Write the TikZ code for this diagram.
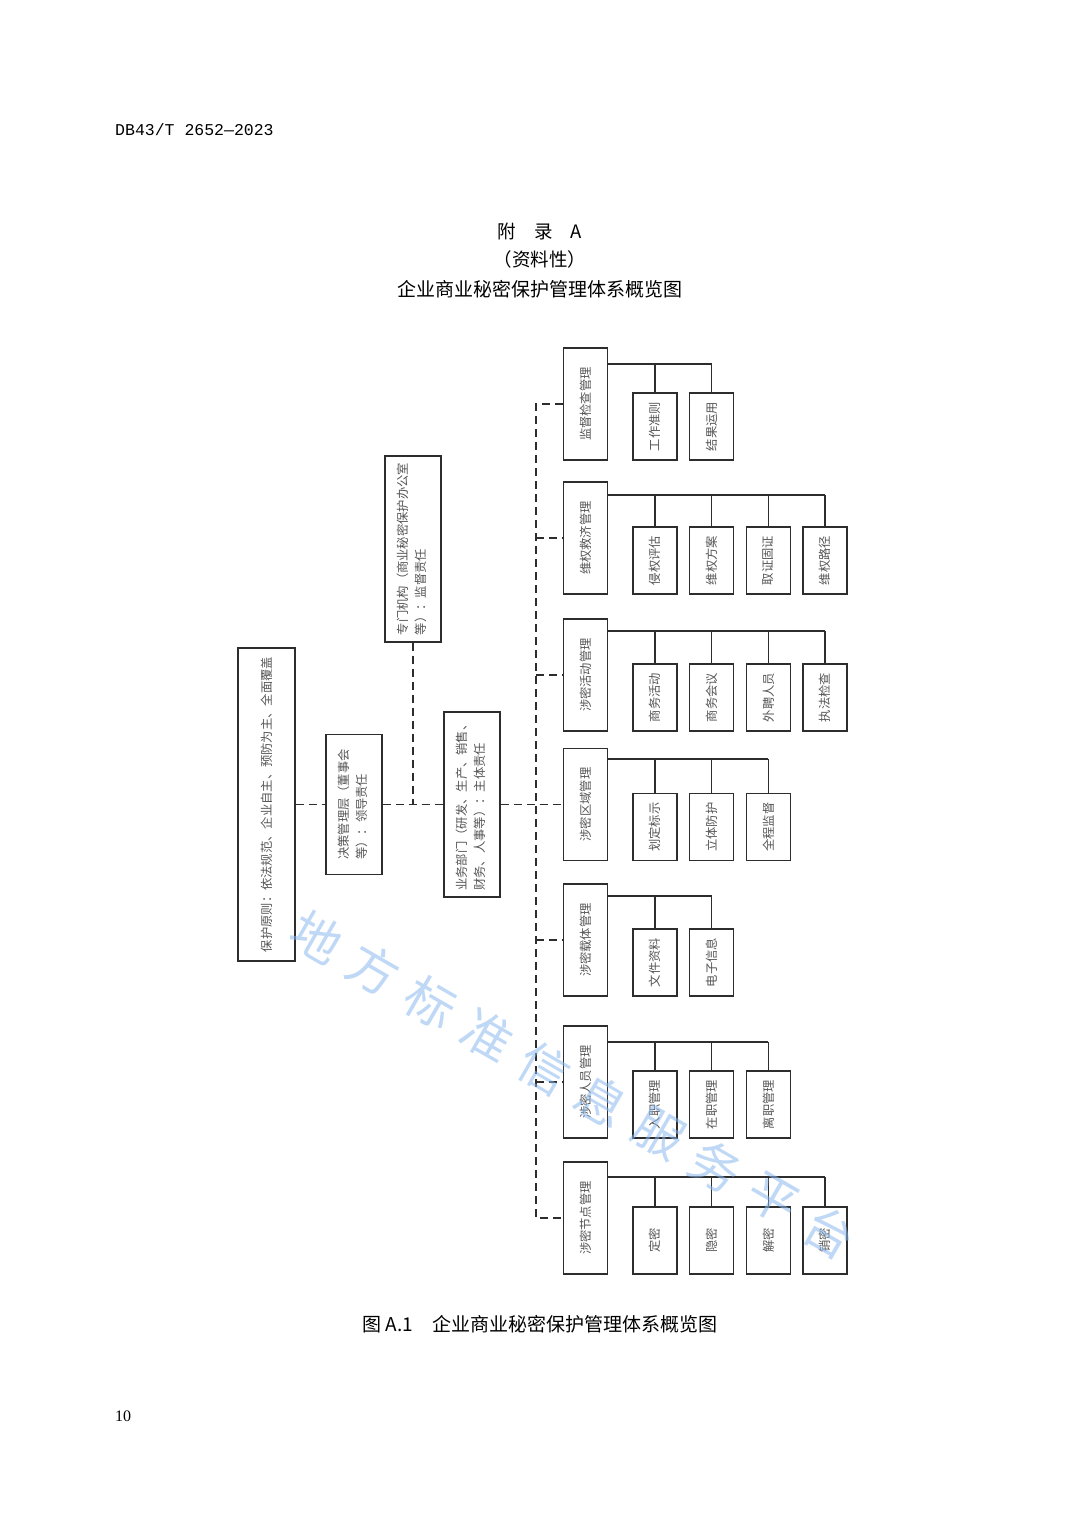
\documentclass[tikz,border=0pt]{standalone}
\usepackage{fontspec}
\usepackage{graphicx}
\newfontfamily\cjk{Noto Sans CJK SC}
\newfontfamily\monof{Liberation Mono}
\newfontfamily\serf{Liberation Serif}
\definecolor{linec}{RGB}{45,45,45}
\definecolor{textc}{RGB}{85,85,85}
\definecolor{wmark}{RGB}{140,185,240}
\newcommand{\vt}[1]{\rotatebox{90}{#1}}
\newcommand{\vtt}[2]{\rotatebox{90}{\begin{tabular}{@{}l@{}}#1\\#2\end{tabular}}}
\tikzset{
  boxbase/.style={draw=linec, line width=1.4pt, inner sep=0pt, text=textc,
    font=\cjk\fontsize{12.3}{18}\selectfont},
  catbox/.style={boxbase, minimum width=44pt, minimum height=112pt},
  kidbox/.style={boxbase, minimum width=44pt, minimum height=67pt},
  solidln/.style={draw=linec, line width=1.4pt},
  dashln/.style={draw=linec, line width=1.4pt, dash pattern=on 8pt off 5pt},
  titletext/.style={inner sep=0pt, text=black, font=\cjk\fontsize{18.5}{18.5}\selectfont}
}
\begin{document}
\begin{tikzpicture}[x=1pt, y=-1pt]
\fill[white] (0,0) rectangle (1080,1527);
\useasboundingbox (0,0) rectangle (1080,1527);

% header, titles, caption, page number
\node[anchor=west, inner sep=0pt, font=\monof\fontsize{16.5}{16.5}\selectfont] (hdr) at (115,130) {DB43/T 2652—2023};
\node[titletext] (t1) at (540,231) {附\hspace{18pt}录\hspace{18pt}A};
\node[titletext] (t2) at (540,259) {（资料性）};
\node[titletext, font=\cjk\fontsize{19}{19}\selectfont] (t3) at (540,289) {企业商业秘密保护管理体系概览图};
\node[titletext, font=\cjk\fontsize{19}{19}\selectfont] (cap) at (540,1324) {图 A.1\hspace{19pt}企业商业秘密保护管理体系概览图};
\node[anchor=west, inner sep=0pt, font=\serf\fontsize{16}{16}\selectfont] (pg) at (115,1416) {10};

% left part
\node[boxbase, minimum width=57pt, minimum height=313pt] (yz) at (266.5,804.5)
  {\vt{保护原则：依法规范、企业自主、预防为主、全面覆盖}};
\node[boxbase, minimum width=56pt, minimum height=140pt] (jc) at (354,804.5)
  {\vtt{决策管理层（董事会}{等）：领导责任}};
\node[boxbase, minimum width=56pt, minimum height=186pt] (zm) at (413,549)
  {\vtt{专门机构（商业秘密保护办公室}{等）：监督责任}};
\node[boxbase, minimum width=56pt, minimum height=185pt] (yw) at (472,804.5)
  {\vtt{业务部门（研发、生产、销售、}{财务、人事等）：主体责任}};

\coordinate (bus) at (536,0);

% categories and their items
\foreach \g/\bt/\bary/\nm/\kids in {
  1/460/364/监督检查管理/{工作准则,结果运用},
  2/594/495/维权救济管理/{侵权评估,维权方案,取证固证,维权路径},
  3/731/631/涉密活动管理/{商务活动,商务会议,外聘人员,执法检查},
  4/860.5/759/涉密区域管理/{划定标示,立体防护,全程监督},
  5/996/896/涉密载体管理/{文件资料,电子信息},
  6/1138/1042/涉密人员管理/{入职管理,在职管理,离职管理},
  7/1274/1177/涉密节点管理/{定密,隐密,解密,销密}}{
  \node[catbox] (c\g) at (585.5,\bt-56) {\vt{\nm}};
  \coordinate (b\g) at (607.5,\bary);
  \foreach \k [count=\i] in \kids {
    \node[kidbox] (k\g-\i) at ({655+56.67*(\i-1)},\bt-33.5) {\vt{\k}};
    \draw[solidln] (k\g-\i.north |- b\g) -- (k\g-\i.north);
    \xdef\lastk{\i}
  }
  \draw[solidln] (c\g.east |- b\g) -- (k\g-\lastk.north |- b\g);
}

% dashed connectors
\draw[dashln] (yz.east) -- (jc.west);
\draw[dashln] (jc.east) -- (yw.west);
\draw[dashln] (zm.south) -- (zm.south |- jc.east);
\draw[dashln] (yw.east) -- (c4.west);
\draw[dashln] (c1.west) -- (c1.west -| bus) -- (c7.west -| bus) -- (c7.west);
\foreach \g in {2,3,5,6} {
  \draw[dashln] (c\g.west -| bus) -- (c\g.west);
}

% watermark
\foreach \ch [count=\j from 0] in {地,方,标,准,信,息,服,务,平,台} {
  \node[text=wmark, opacity=0.55, rotate=-30, inner sep=0pt,
        font=\cjk\fontsize{50}{50}\selectfont] (wm\j) at ({317+57*\j},{937+32.8*\j}) {\ch};
}
\end{tikzpicture}
\end{document}
